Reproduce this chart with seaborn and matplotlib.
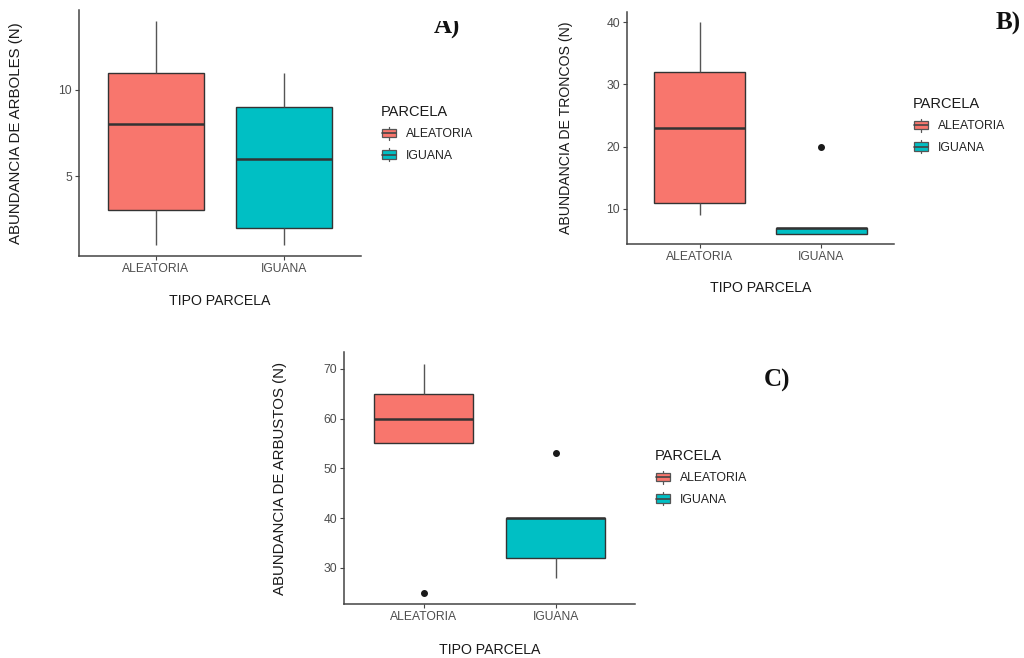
import matplotlib
matplotlib.use("Agg")
import matplotlib.pyplot as plt
import pandas as pd
import seaborn as sns
from matplotlib.legend_handler import HandlerBase
from matplotlib.patches import Rectangle
from matplotlib.lines import Line2D

# ---- datos ----
categorias = ["ALEATORIA", "IGUANA"]
colores = ["#F8766D", "#00BFC4"]

arboles_aleatoria = [1, 3, 8, 11, 14]
arboles_iguana = [1, 2, 6, 9, 11]

troncos_aleatoria = [9, 11, 23, 32, 40]
troncos_iguana = [6, 6, 7, 7, 20]

arbustos_aleatoria = [25, 55, 60, 65, 71]
arbustos_iguana = [28, 32, 40, 40, 53]

ticks_arboles = [5, 10]
ticks_troncos = [10, 20, 30, 40]
ticks_arbustos = [30, 40, 50, 60, 70]

sns.set_theme(style="white")
plt.rcParams["font.family"] = ["Liberation Sans", "DejaVu Sans"]

W, H = 1024, 658
fig = plt.figure(figsize=(W / 100, H / 100), dpi=100)

LINEA = "#333333"
GRIS_TEXTO = "#4D4D4D"


def ejes_px(left, top, right, bottom):
    return fig.add_axes([left / W, 1 - bottom / H, (right - left) / W, (bottom - top) / H])


class CajaLeyenda(HandlerBase):
    """Clave de leyenda con forma de caja: relleno, mediana y bigotes cortos."""

    def create_artists(self, legend, orig_handle, xdescent, ydescent,
                       width, height, fontsize, trans):
        x0, y0 = -xdescent, -ydescent
        cx = x0 + width / 2
        b0, b1 = y0 + 0.19 * height, y0 + 0.81 * height
        bigote = Line2D([cx, cx], [y0, y0 + height],
                        color="#555555", lw=0.9, transform=trans)
        caja = Rectangle((x0 + 0.5, b0), width - 1, b1 - b0,
                         facecolor=orig_handle.get_facecolor(),
                         edgecolor="#555555", lw=0.9, transform=trans)
        mediana = Line2D([x0 + 0.5, x0 + width - 0.5], [(b0 + b1) / 2] * 2,
                         color="#444444", lw=1.2, transform=trans)
        return [bigote, caja, mediana]


def panel(ax, valores_a, valores_b, ylabel, yticks, ylabel_size, leyenda_xy,
          xlabel_y, ylabel_x):
    df = pd.DataFrame({
        "PARCELA": [categorias[0]] * len(valores_a) + [categorias[1]] * len(valores_b),
        "N": list(valores_a) + list(valores_b),
    })
    sns.boxplot(
        data=df, x="PARCELA", y="N", hue="PARCELA",
        order=categorias, hue_order=categorias, palette=colores,
        saturation=1, width=0.75, linecolor=LINEA, linewidth=1.0,
        whis=1.5, showcaps=False, fliersize=4,
        flierprops=dict(marker="o", markerfacecolor="#1a1a1a",
                        markeredgecolor="#1a1a1a"),
        whiskerprops=dict(color="#555555"),
        medianprops=dict(linewidth=1.8, color=LINEA),
        legend=False, ax=ax,
    )
    todos = list(valores_a) + list(valores_b)
    lo, hi = min(todos), max(todos)
    pad = 0.05 * (hi - lo)
    ax.set_ylim(lo - pad, hi + pad)
    ax.set_xlim(-0.6, 1.6)
    ax.set_yticks(yticks)

    for lado in ("top", "right"):
        ax.spines[lado].set_visible(False)
    for lado in ("left", "bottom"):
        ax.spines[lado].set_color("#444444")
        ax.spines[lado].set_linewidth(1.1)
    ax.tick_params(bottom=True, left=True, direction="out", length=3,
                   width=0.8, color="#444444", labelcolor=GRIS_TEXTO,
                   labelsize=8.7, pad=2)

    ax.set_xlabel("TIPO PARCELA", fontsize=10.2, color="#1a1a1a")
    ax.xaxis.set_label_coords(0.5, xlabel_y)
    ax.set_ylabel(ylabel, fontsize=ylabel_size, color="#1a1a1a")
    ax.yaxis.set_label_coords(ylabel_x, 0.5)

    handles = [Rectangle((0, 0), 1, 1, facecolor=c) for c in colores]
    ax.legend(
        handles=handles, labels=categorias, title="PARCELA",
        handler_map={Rectangle: CajaLeyenda()},
        loc="upper left",
        bbox_to_anchor=(leyenda_xy[0] / W, 1 - leyenda_xy[1] / H),
        bbox_transform=fig.transFigure, frameon=False,
        fontsize=8.8, title_fontsize=10.5, alignment="left",
        borderpad=0, borderaxespad=0, handlelength=1.3, handleheight=1.3,
        handletextpad=0.75, labelspacing=0.62,
    )
    leg = ax.get_legend()
    leg.get_title().set_color("#1a1a1a")
    for t in leg.get_texts():
        t.set_color("#222222")


ax_a = ejes_px(79, 10, 361, 256)
panel(ax_a, arboles_aleatoria, arboles_iguana, "ABUNDANCIA DE ARBOLES (N)",
      ticks_arboles, 10.8, (381, 105), -0.154, -0.199)

ax_b = ejes_px(627, 11.7, 894, 244.3)
panel(ax_b, troncos_aleatoria, troncos_iguana, "ABUNDANCIA DE TRONCOS (N)",
      ticks_troncos, 10.2, (913, 97), -0.158, -0.202)

ax_c = ejes_px(344.3, 352.3, 635, 604.3)
panel(ax_c, arbustos_aleatoria, arbustos_iguana, "ABUNDANCIA DE ARBUSTOS (N)",
      ticks_arbustos, 10.8, (655, 449), -0.154, -0.197)

# etiquetas de panel
letra = dict(family=["Liberation Serif", "DejaVu Serif"], weight="bold",
             fontsize=18, color="#111111", ha="center", va="baseline")
fig.text(447 / W, 1 - 34 / H, "A)", **letra)
fig.text(1008 / W, 1 - 30 / H, "B)", **letra)
fig.text(777 / W, 1 - 387 / H, "C)", **letra)

# franja superior recortada sobre la etiqueta A)
fig.add_artist(Rectangle((400 / W, 1 - 21 / H), 100 / W, 21 / H,
                         transform=fig.transFigure, facecolor="white",
                         edgecolor="none", zorder=10))

fig.savefig("out.png", dpi=100, facecolor="white")
